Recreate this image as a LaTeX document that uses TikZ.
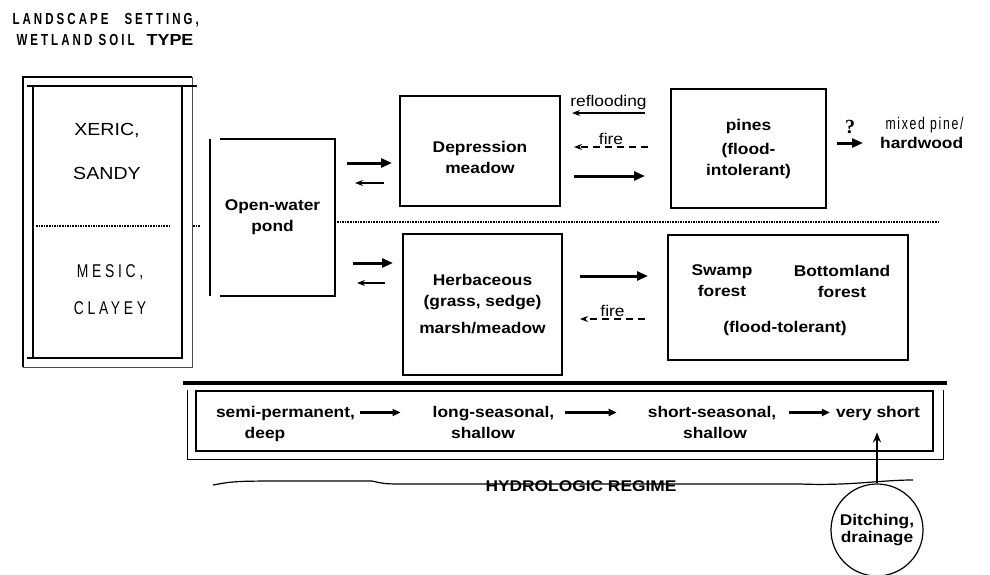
\documentclass[tikz,border=0pt]{standalone}
\usepackage{fontspec}
\setmainfont{Liberation Sans}[FakeStretch=1.12]
\newfontfamily\narrowfont{Liberation Sans}[FakeStretch=0.72,LetterSpace=19]
\newfontfamily\mixfont{Liberation Sans}[FakeStretch=0.72,LetterSpace=10]
\newfontfamily\spacedfont{Liberation Sans}[FakeStretch=0.75,LetterSpace=20]
\newfontfamily\qmarkfont{Liberation Serif}
\usetikzlibrary{arrows.meta,positioning}

\newcommand\lbl{\fontsize{15.5}{21}\selectfont\bfseries}
\newcommand\txtreg{\fontsize{15.5}{19}\selectfont}
\newcommand\soilfont{\fontsize{17.5}{21}\selectfont}
\newcommand\soilnarrow{\fontsize{18.5}{21}\selectfont\spacedfont}
\newcommand\titlefont{\fontsize{16}{18}\selectfont\narrowfont\bfseries}

\tikzset{
  box/.style={draw, line width=1.6pt, outer sep=0pt, inner sep=0pt, align=center, font=\lbl},
  lbl/.style={inner sep=0pt, align=center, font=\lbl},
  fat/.style={line width=3pt, -{Triangle[length=11pt,width=9pt]}},
  thinarr/.style={line width=1.1pt, -{Stealth[length=8pt,width=6pt]}},
  firearr/.style={thinarr, dash pattern=on 7pt off 5pt},
  smallfat/.style={line width=2.2pt, -{Triangle[length=8pt,width=7pt]}},
  uparr/.style={line width=2pt, -{Stealth[length=10pt,width=8pt]}}
}

\begin{document}
\begin{tikzpicture}[x=1pt,y=1pt]
    \useasboundingbox (0,0) rectangle (990,-575);

    \node[anchor=west, font=\titlefont] (title1) at (9,-20) {LANDSCAPE\hspace{16pt}SETTING,};
    \node[anchor=west, font=\titlefont] (title2) at (13,-40) {WETLAND SOIL\hspace{12pt}{\normalfont\bfseries TYPE}};

    \node[draw, line width=1.6pt, minimum width=149pt, minimum height=272pt, outer sep=0pt, inner sep=0pt] (soil) at (107.5,-222) {};
    \draw[line width=1.8pt] ([shift={(-10,-9)}]soil.south west) |- ([shift={(10,9)}]soil.north east);
    \draw[line width=0.8pt, black!70] ([shift={(-10,-9)}]soil.south west) -| ([shift={(10,9)}]soil.north east);
    \draw[line width=1.6pt] ([xshift=-6pt]soil.north west) -- ([xshift=15pt]soil.north east);
    \draw[line width=2.6pt] ([xshift=-6pt]soil.south west) -- ([xshift=55pt]soil.south west);
    \draw[line width=1.6pt, densely dotted] ([shift={(3,-4)}]soil.west) -- ([shift={(-12,-4)}]soil.east);
    \draw[line width=1.6pt, densely dotted] ([shift={(11,-4)}]soil.east) -- ([shift={(18,-4)}]soil.east);
    \node[font=\soilfont] (xeric) at (107,-131) {XERIC,};
    \node[font=\soilfont] (sandy) at (107,-173) {SANDY};
    \node[font=\soilnarrow] (mesic) at (110,-272) {MESIC,};
    \node[font=\soilnarrow] (clayey) at (110,-308) {CLAYEY};

    \node[lbl, minimum width=125pt, minimum height=157pt, outer sep=0pt] (pond) at (272.5,-217.5) {Open-water\\pond};
    \draw[line width=1.3pt] (pond.north west) -- (pond.south west);
    \draw[line width=1.6pt] ([xshift=10pt]pond.north west) -- (pond.north east) -- (pond.south east) -- ([xshift=10pt]pond.south west);

    \draw[line width=1.6pt, densely dotted] (337,-222) -- (938,-222);

    \node[box, minimum width=160pt, minimum height=110pt] (dep) at (480,-151) {\rule{0pt}{25pt}Depression\\meadow};
    \node[box, minimum width=155pt, minimum height=119pt] (pines) at (748.5,-148.5) {pines\\[3pt](flood-\\intolerant)};
    \node[box, minimum width=159pt, minimum height=141pt] (herb) at (482.5,-304.5) {Herbaceous\\(grass, sedge)\\[6pt]marsh/meadow};
    \node[box, minimum width=240pt, minimum height=125pt] (swamp) at (788,-297.5) {};
    \node[lbl] (swampf) at (722,-281) {Swamp\\forest};
    \node[lbl] (bottomf) at (842,-281) {Bottomland\\forest};
    \node[lbl] (tolerant) at (785,-328) {(flood-tolerant)};

    \node[anchor=west, font=\fontsize{17}{19}\selectfont\mixfont] (mixed) at (882,-125) {mixed pine/};
    \node[anchor=west, lbl] (hardwood) at (880,-143) {hardwood};
    \node[font=\qmarkfont\bfseries\fontsize{20}{22}\selectfont] (qmark) at (850,-127) {?};

    \draw[fat] ([shift={(12,54.5)}]pond.east) -- ([shift={(-8,-12)}]dep.west);
    \draw[thinarr] ([shift={(-16,-32)}]dep.west) -- ([shift={(20,34.5)}]pond.east);
    \draw[fat] ([shift={(18,-45.5)}]pond.east) -- ([shift={(-10,41.5)}]herb.west);
    \draw[thinarr] ([shift={(-18,21.5)}]herb.west) -- ([shift={(22,-65.5)}]pond.east);
    \draw[thinarr] ([shift={(-26,35.5)}]pines.west) -- node[above=3pt, inner sep=0pt, font=\txtreg] (reflood) {reflooding} ([shift={(12,38)}]dep.east);
    \draw[firearr] ([shift={(-23,1.5)}]pines.west) -- node[above=2pt, inner sep=0pt, font=\txtreg] (fire1) {fire} ([shift={(14,4)}]dep.east);
    \draw[fat] ([shift={(14,-25)}]dep.east) -- ([shift={(-26,-27.5)}]pines.west);
    \draw[fat] ([shift={(11,5.5)}]pines.east) -- ([xshift=-17pt]hardwood.west);
    \draw[fat] ([shift={(18,28.5)}]herb.east) -- ([shift={(-20,21.5)}]swamp.west);
    \draw[firearr] ([shift={(-23,-21.5)}]swamp.west) -- node[above=2pt, inner sep=0pt, font=\txtreg] (fire2) {fire} ([shift={(18,-14.5)}]herb.east);

    \draw[line width=3.5pt] (183,-383) -- (947,-383);
    \node[draw, line width=1.4pt, minimum width=737pt, minimum height=60pt, outer sep=0pt] (regime) at (564.5,-421) {};
    \draw[line width=1pt] ([shift={(-9,1)}]regime.north west) |- ([shift={(10,-8)}]regime.south east) -- ([shift={(10,1)}]regime.north east);

    \node[lbl, anchor=base] (hsemi) at (285.5,-417) {semi-permanent,};
    \node[lbl, anchor=base] (hlong) at (493.5,-417) {long-seasonal,};
    \node[lbl, anchor=base] (hshort) at (712,-417) {short-seasonal,};
    \node[lbl, anchor=base] (hvery) at (878,-417) {very short};
    \node[lbl, anchor=base] (hdeep) at ([shift={(-20.5,-21)}]hsemi.base) {deep};
    \node[lbl, anchor=base] (hshal1) at ([shift={(-10.5,-21)}]hlong.base) {shallow};
    \node[lbl, anchor=base] (hshal2) at ([shift={(3,-21)}]hshort.base) {shallow};
    \draw[smallfat, shorten <=5pt, shorten >=32pt] ([yshift=4.5pt]hsemi.base east) -- ([yshift=4.5pt]hlong.base west);
    \draw[smallfat, shorten <=11pt, shorten >=31pt] ([yshift=4.5pt]hlong.base east) -- ([yshift=4.5pt]hshort.base west);
    \draw[smallfat, shorten <=13pt, shorten >=6pt] ([yshift=4.5pt]hshort.base east) -- ([yshift=4.5pt]hvery.base west);

    \draw[line width=1.2pt] (213,-485) .. controls (235,-481) .. (300,-481) -- (372,-481) .. controls (385,-484) .. (410,-484) -- (800,-484) .. controls (850,-486) and (880,-480) .. (913,-480);
    \node[lbl, anchor=base] (hydro) at (581,-491) {HYDROLOGIC REGIME};

    \node[draw, circle, line width=1.2pt, minimum size=92pt, inner sep=0pt, align=center, font=\fontsize{15.5}{16.5}\selectfont\bfseries] (ditch) at (877,-530) {Ditching,\\drainage};
    \draw[uparr, shorten >=12pt] (ditch.north) -- (ditch.north |- hvery.south);
\end{tikzpicture}
\end{document}
